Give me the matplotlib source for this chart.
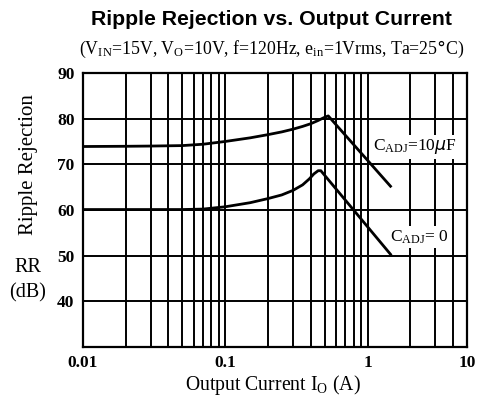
import matplotlib.pyplot as plt
from matplotlib.ticker import FixedLocator, NullFormatter

# Ripple rejection vs output current
current_10uf = [0.01, 0.02, 0.03, 0.05, 0.07, 0.1, 0.15, 0.2, 0.25, 0.3,
                0.35, 0.4, 0.45, 0.5, 0.53, 1.45]
rr_10uf = [73.9, 73.95, 74.0, 74.1, 74.4, 75.0, 75.8, 76.5, 77.1, 77.7,
           78.3, 78.9, 79.6, 80.3, 80.6, 65.2]

current_0 = [0.01, 0.03, 0.05, 0.07, 0.1, 0.15, 0.2, 0.25, 0.3, 0.35,
             0.39, 0.42, 0.45, 0.47, 1.45]
rr_0 = [60.1, 60.1, 60.1, 60.2, 60.7, 61.6, 62.5, 63.3, 64.3, 65.5,
        66.8, 67.9, 68.6, 68.6, 50.3]

x_ticks = [0.01, 0.1, 1, 5]
x_tick_labels = ['0.01', '0.1', '1', '10']
y_ticks = [40, 50, 60, 70, 80, 90]

serif = 'Liberation Serif'

fig = plt.figure(figsize=(4.82, 4.05), dpi=100)
ax = fig.add_axes([0.1716, 0.1432, 0.7974, 0.6766])

ax.set_xscale('log')
ax.set_xlim(0.01, 5)
ax.set_ylim(30, 90)

# grid: every minor decade step plus every 10 dB
minor = [m * 10.0 ** e for e in (-2, -1, 0) for m in range(1, 10)]
minor = [v for v in minor if 0.01 < v < 5]
for v in minor:
    ax.axvline(v, color='black', lw=1.4, zorder=1)
for v in [40, 50, 60, 70, 80]:
    ax.axhline(v, color='black', lw=1.4, zorder=1)

ax.plot(current_10uf, rr_10uf, color='black', lw=2.0, zorder=3)
ax.plot(current_0, rr_0, color='black', lw=2.0, zorder=3)

ax.text(2.14, 73.8, r'C$\mathregular{_{ADJ}}$=10$\mathit{\mu}$F', fontsize=12.5,
        family=serif, ha='center', va='center', zorder=4,
        bbox=dict(facecolor='white', edgecolor='none', pad=1.5))
ax.text(2.3, 54.1, r'C$\mathregular{_{ADJ}}$= 0', fontsize=12.5,
        family=serif, ha='center', va='center', zorder=4,
        bbox=dict(facecolor='white', edgecolor='none', pad=1.5))

for s in ax.spines.values():
    s.set_linewidth(1.6)

ax.xaxis.set_major_locator(FixedLocator(x_ticks))
ax.set_xticklabels(x_tick_labels)
ax.xaxis.set_minor_formatter(NullFormatter())
ax.xaxis.set_minor_locator(FixedLocator([]))
ax.set_yticks(y_ticks)
ax.tick_params(axis='x', length=0, pad=6)
ax.tick_params(axis='y', length=0, pad=6)
for lab in ax.get_xticklabels() + ax.get_yticklabels():
    lab.set_fontfamily(serif)
    lab.set_fontweight('bold')
    lab.set_fontsize(12.5)

fig.text(0.563, 0.951, 'Ripple Rejection vs. Output Current', ha='center', va='center',
         fontsize=15.3, fontweight='bold', family='Liberation Sans')
fig.text(0.563, 0.877,
         r'(V$\mathregular{_{IN}}$=15V, V$\mathregular{_O}$=10V, f=120Hz, '
         r'e$\mathregular{_{in}}$=1Vrms, Ta=25$\degree$C)',
         ha='center', va='center', fontsize=12.8, family=serif)

fig.text(0.06, 0.593, 'Ripple Rejection', rotation=90, ha='center', va='center',
         fontsize=15, family=serif)
fig.text(0.058, 0.34, 'RR', ha='center', va='center', fontsize=14.5, family=serif)
fig.text(0.058, 0.278, '(dB)', ha='center', va='center', fontsize=14.5, family=serif)
fig.text(0.566, 0.049, r'Output Current I$\mathregular{_O}$ (A)', ha='center',
         va='center', fontsize=14.2, family=serif)

fig.savefig('out.png', dpi=100)
